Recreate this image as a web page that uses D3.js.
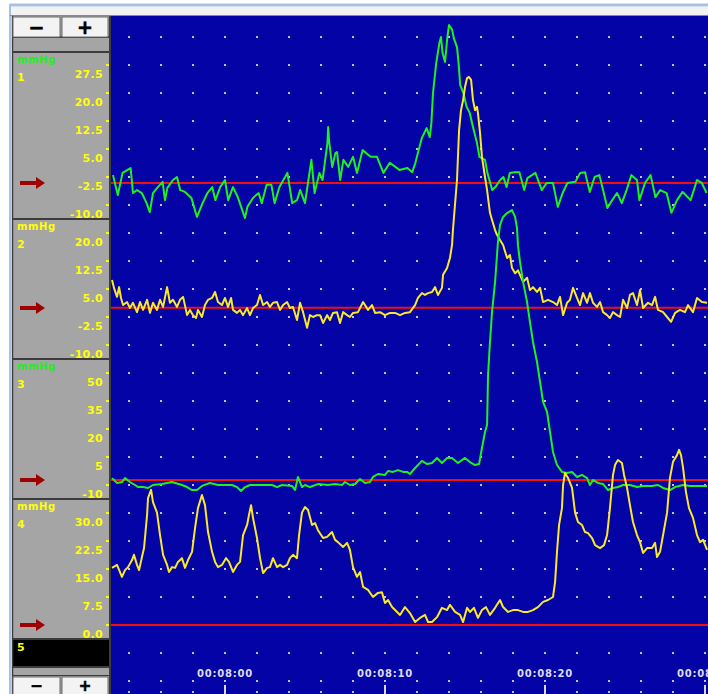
<!DOCTYPE html>
<html>
<head>
<meta charset="utf-8">
<script src="https://cdn.jsdelivr.net/npm/d3@7/dist/d3.min.js"></script>
<style>
  body { margin: 0; background: #fff; }
  svg text { font-family: "DejaVu Sans", sans-serif; font-weight: bold; }
</style>
</head>
<body>
<svg id="chart" width="708" height="694"></svg>
<script>
// ---- data (time in seconds, pressure in mmHg) ----
var viewStart = 472.875;           // left edge of the visible window, s
var timeLabels = [480, 490, 500, 510];

var channelNames = ["1", "2", "3", "4"];
var channelUnits = ["mmHg", "mmHg", "mmHg", "mmHg"];
var ch1Ticks = [27.5, 20.0, 12.5, 5.0, -2.5, -10.0];
var ch2Ticks = [20.0, 12.5, 5.0, -2.5, -10.0];
var ch3Ticks = [50, 35, 20, 5, -10];
var ch4Ticks = [30.0, 22.5, 15.0, 7.5, 0.0];
var markerLevels = [-4.1, 0.0, -7.3, 0.0];

var ch1 = [[473.0,-2.0],[473.3,-7.3],[473.6,-1.4],[474.1,-0.1],[474.25,-6.8],[474.5,-6.0],[474.8,-6.8],[475.1,-9.5],[475.3,-11.9],[475.5,-6.8],[475.8,-5.2],[476.1,-3.8],[476.25,-8.7],[476.4,-5.4],[476.75,-3.3],[477.0,-2.5],[477.2,-6.0],[477.5,-6.5],[477.9,-8.1],[478.25,-13.2],[478.6,-9.5],[478.9,-6.8],[479.2,-5.2],[479.4,-8.7],[479.7,-5.2],[480.0,-3.3],[480.2,-8.7],[480.5,-5.2],[480.8,-7.9],[481.25,-13.5],[481.4,-10.5],[481.75,-8.1],[482.1,-6.8],[482.3,-9.5],[482.6,-4.6],[482.9,-4.6],[483.1,-9.5],[483.4,-5.2],[483.9,-1.4],[484.2,-9.5],[484.5,-8.7],[484.7,-6.0],[485.0,-9.5],[485.4,2.1],[485.6,-6.8],[485.9,-1.4],[486.1,-3.3],[486.4,6.6],[486.45,10.9],[486.5,7.4],[486.7,0.2],[486.9,3.9],[487.0,4.2],[487.2,-3.3],[487.4,2.1],[487.7,0.2],[488.0,2.9],[488.25,-1.4],[488.6,4.7],[489.1,2.9],[489.5,2.9],[489.9,-1.4],[490.3,1.3],[490.9,-0.6],[491.4,-0.1],[491.7,-1.2],[491.9,1.3],[492.1,4.7],[492.3,7.9],[492.6,10.6],[492.8,8.2],[492.9,12.0],[493.0,20.0],[493.2,28.0],[493.4,33.4],[493.5,35.0],[493.6,30.7],[493.75,28.3],[493.9,35.0],[494.0,38.2],[494.2,36.9],[494.3,34.7],[494.5,32.3],[494.6,28.0],[494.7,22.1],[494.9,20.0],[495.1,16.3],[495.3,14.6],[495.5,10.9],[495.75,6.6],[495.9,2.9],[496.25,2.1],[496.4,-1.4],[496.7,-6.0],[496.9,-5.2],[497.2,-3.3],[497.4,-2.5],[497.6,-5.2],[497.8,-1.4],[498.1,-1.2],[498.4,-1.2],[498.7,-6.0],[498.9,-2.8],[499.4,-1.4],[499.8,-6.0],[500.1,-4.1],[500.5,-4.1],[500.8,-10.5],[501.1,-6.8],[501.4,-4.1],[501.9,-3.8],[502.2,-1.4],[502.5,-1.2],[502.8,-6.5],[503.1,-2.5],[503.4,-2.0],[503.9,-10.8],[504.2,-8.7],[504.5,-6.8],[504.8,-9.5],[505.1,-6.0],[505.4,-2.0],[505.75,-3.3],[505.9,-8.7],[506.25,-4.1],[506.6,-2.0],[506.9,-7.9],[507.2,-6.0],[507.6,-6.8],[507.9,-12.1],[508.25,-8.7],[508.6,-6.5],[509.1,-8.7],[509.5,-3.3],[509.8,-4.1],[510.1,-6.8]];

var ch2 = [[472.94,7.4],[473.06,5.3],[473.25,2.9],[473.38,5.5],[473.5,2.6],[473.63,0.7],[473.88,1.5],[474.06,-0.1],[474.25,1.3],[474.5,-1.2],[474.69,1.5],[474.88,-0.6],[475.13,2.1],[475.31,-1.4],[475.5,1.3],[475.75,-0.6],[475.94,2.1],[476.13,0.2],[476.38,5.5],[476.56,1.3],[476.75,2.1],[477.0,0.2],[477.19,2.1],[477.38,2.9],[477.63,-2.0],[477.81,-0.6],[478.0,-2.0],[478.19,-2.8],[478.31,-0.6],[478.56,-2.5],[478.75,0.7],[478.94,2.1],[479.19,2.6],[479.38,4.2],[479.56,1.5],[479.81,0.7],[480.0,2.6],[480.19,0.2],[480.38,2.6],[480.5,-0.6],[480.75,-1.4],[480.94,-0.6],[481.13,-2.0],[481.38,-0.1],[481.56,-2.0],[481.75,-0.1],[482.0,0.7],[482.19,3.4],[482.38,0.7],[482.63,1.5],[482.81,0.2],[483.0,1.3],[483.25,1.5],[483.44,-0.6],[483.63,0.7],[483.88,1.5],[484.06,-0.1],[484.25,0.2],[484.5,-3.3],[484.69,1.3],[484.88,-1.2],[485.13,-5.4],[485.31,-2.0],[485.5,-2.5],[485.75,-2.0],[485.94,-2.0],[486.13,-4.1],[486.38,-2.0],[486.56,-3.3],[486.75,-1.4],[487.0,-1.2],[487.19,-4.1],[487.38,-1.2],[487.63,-2.0],[487.81,-2.5],[488.0,-1.4],[488.31,-1.2],[488.63,1.5],[488.94,-0.6],[489.19,0.7],[489.38,-1.4],[489.69,-1.2],[490.0,-2.0],[490.31,-1.4],[490.63,-1.4],[490.94,-2.0],[491.25,-1.4],[491.56,-1.2],[491.88,0.7],[492.06,2.6],[492.31,3.9],[492.5,3.4],[492.69,3.9],[492.94,4.2],[493.13,5.5],[493.31,3.4],[493.56,5.3],[493.63,8.8],[493.88,10.6],[494.06,13.3],[494.19,16.8],[494.25,21.0],[494.5,34.2],[494.63,47.6],[494.75,52.9],[494.88,55.6],[495.0,59.1],[495.13,61.5],[495.25,61.8],[495.38,61.0],[495.5,55.6],[495.63,52.9],[495.75,53.8],[495.81,52.1],[495.94,46.8],[496.06,40.4],[496.25,35.0],[496.38,31.5],[496.56,25.4],[496.69,23.5],[496.88,20.8],[497.0,19.5],[497.19,18.1],[497.38,16.8],[497.63,13.3],[497.81,14.1],[497.94,10.6],[498.13,9.2],[498.31,10.0],[498.63,6.9],[498.88,8.0],[499.06,4.7],[499.25,5.5],[499.5,4.2],[499.69,5.3],[499.88,1.5],[500.19,2.1],[500.5,1.5],[500.75,0.7],[500.94,2.9],[501.13,-2.0],[501.38,1.3],[501.56,2.1],[501.75,5.3],[502.0,2.6],[502.19,0.7],[502.38,3.9],[502.63,1.3],[502.81,3.9],[503.0,1.3],[503.25,0.2],[503.44,1.5],[503.63,-1.2],[503.88,-2.0],[504.06,-2.8],[504.25,-1.2],[504.5,-2.0],[504.69,-2.5],[504.88,2.1],[505.13,-0.1],[505.31,3.4],[505.5,3.9],[505.75,0.7],[505.94,4.7],[506.13,-0.1],[506.44,1.3],[506.69,0.7],[506.88,2.9],[507.06,-0.6],[507.38,-1.2],[507.63,-2.5],[507.88,-3.8],[508.13,-1.4],[508.44,-0.6],[508.75,-1.2],[508.94,0.7],[509.25,-1.2],[509.5,2.6],[509.81,1.5],[510.13,1.3]];

var ch3 = [[472.94,-6.3],[473.25,-8.9],[473.56,-8.4],[473.75,-6.3],[474.06,-8.4],[474.38,-10.0],[474.56,-11.1],[474.88,-11.1],[475.19,-11.6],[475.5,-10.0],[476.06,-9.5],[476.69,-8.4],[477.31,-10.0],[477.63,-11.1],[477.94,-12.7],[478.25,-12.7],[478.56,-10.5],[479.06,-8.9],[479.56,-10.0],[480.44,-10.0],[480.75,-11.1],[481.0,-13.2],[481.25,-11.1],[481.56,-10.0],[482.31,-10.0],[482.94,-10.0],[483.25,-11.1],[483.56,-10.0],[484.19,-10.5],[484.38,-12.7],[484.56,-5.7],[484.81,-11.1],[485.0,-10.0],[485.31,-11.1],[485.81,-9.5],[486.44,-10.0],[486.88,-9.5],[487.31,-10.0],[487.5,-8.4],[487.81,-10.0],[488.13,-9.5],[488.44,-6.8],[488.75,-8.9],[489.06,-8.4],[489.25,-5.7],[489.56,-4.1],[490.0,-4.6],[490.19,-2.5],[490.5,-3.0],[490.81,-2.0],[491.13,-3.0],[491.38,-3.0],[491.56,-4.1],[491.88,-0.9],[492.31,2.9],[492.63,1.2],[492.94,1.8],[493.25,4.5],[493.56,1.8],[493.88,4.5],[494.19,4.5],[494.56,1.8],[495.0,4.5],[495.31,2.3],[495.63,0.7],[495.88,1.2],[496.06,9.8],[496.25,18.4],[496.38,22.1],[496.44,48.9],[496.56,66.6],[496.69,82.7],[496.88,98.8],[497.0,113.2],[497.06,120.2],[497.19,129.3],[497.38,133.6],[497.63,135.7],[497.94,137.3],[498.13,133.6],[498.25,127.6],[498.31,118.5],[498.44,109.4],[498.63,98.8],[498.88,88.0],[499.06,77.3],[499.25,66.6],[499.5,55.9],[499.69,45.2],[499.88,34.5],[500.13,29.1],[500.25,22.1],[500.5,7.7],[500.75,0.7],[501.06,-3.0],[501.38,-3.6],[501.69,-3.0],[502.0,-5.7],[502.31,-4.6],[502.63,-6.3],[502.81,-10.0],[503.0,-7.3],[503.31,-8.9],[503.63,-9.5],[503.94,-12.7],[504.25,-11.6],[504.56,-11.1],[504.88,-10.0],[505.31,-10.0],[505.75,-11.1],[506.13,-10.5],[506.69,-10.5],[507.06,-10.0],[507.38,-11.6],[507.81,-12.7],[508.13,-11.1],[508.63,-10.0],[509.06,-10.5],[509.5,-10.5],[510.13,-10.5]];

var ch4 = [[472.94,15.3],[473.25,16.1],[473.56,12.9],[473.75,14.7],[473.94,15.5],[474.19,17.4],[474.31,18.8],[474.5,16.1],[474.63,14.7],[474.81,18.2],[474.94,20.6],[475.13,29.5],[475.19,34.0],[475.38,36.2],[475.5,32.9],[475.75,30.1],[475.94,24.1],[476.13,18.8],[476.38,16.1],[476.5,14.2],[476.69,15.5],[476.88,15.3],[477.06,16.9],[477.31,17.9],[477.5,15.3],[477.69,17.4],[477.94,19.6],[478.13,26.0],[478.31,31.3],[478.56,34.8],[478.75,32.1],[478.94,24.9],[479.19,19.6],[479.38,16.9],[479.56,15.5],[479.81,16.1],[480.06,17.9],[480.25,16.9],[480.5,14.2],[480.75,16.1],[480.94,16.9],[481.13,24.1],[481.38,26.8],[481.5,29.5],[481.63,32.1],[481.75,28.7],[482.0,23.3],[482.19,17.9],[482.38,13.9],[482.63,15.3],[482.81,15.5],[483.0,17.9],[483.25,15.5],[483.44,16.1],[483.63,15.5],[483.88,16.1],[484.06,17.9],[484.25,18.8],[484.5,17.9],[484.63,24.1],[484.81,30.1],[485.0,31.6],[485.19,30.8],[485.44,26.8],[485.63,27.3],[485.81,25.4],[486.13,23.3],[486.38,23.6],[486.69,24.9],[486.88,22.8],[487.06,22.2],[487.38,20.9],[487.63,22.0],[487.81,20.1],[488.0,15.5],[488.25,12.9],[488.44,14.2],[488.63,10.2],[488.94,9.4],[489.25,7.5],[489.56,8.6],[489.81,8.8],[490.0,5.9],[490.19,6.7],[490.44,4.8],[490.63,4.0],[490.94,2.7],[491.25,4.8],[491.56,3.2],[491.88,0.8],[492.19,1.9],[492.5,2.7],[492.69,0.8],[492.94,0.8],[493.25,2.1],[493.56,4.6],[493.88,4.0],[494.06,5.4],[494.38,3.5],[494.69,2.7],[494.88,0.8],[495.13,4.6],[495.31,3.5],[495.56,4.6],[495.81,1.9],[496.06,4.0],[496.31,4.8],[496.56,2.7],[496.88,4.6],[497.19,6.7],[497.38,4.8],[497.69,3.5],[498.0,4.0],[498.31,4.0],[498.63,3.5],[498.94,3.5],[499.25,4.0],[499.56,4.8],[499.88,6.2],[500.19,6.7],[500.5,7.5],[500.63,11.5],[500.75,19.6],[500.88,26.8],[501.06,31.3],[501.13,37.5],[501.25,40.7],[501.44,39.4],[501.69,36.7],[501.88,30.1],[502.06,27.6],[502.31,26.8],[502.5,24.9],[502.69,24.6],[502.94,23.3],[503.13,21.4],[503.44,20.6],[503.69,21.4],[503.88,24.1],[504.06,31.3],[504.25,40.2],[504.38,42.9],[504.56,44.2],[504.81,43.4],[504.94,40.2],[505.13,36.7],[505.31,32.1],[505.5,27.6],[505.75,24.1],[505.94,22.2],[506.13,19.3],[506.38,20.6],[506.69,20.6],[506.88,22.0],[507.0,18.2],[507.19,19.6],[507.38,24.1],[507.63,30.1],[507.81,39.4],[508.0,43.7],[508.25,45.5],[508.38,46.9],[508.5,45.5],[508.63,42.1],[508.81,35.6],[509.0,31.3],[509.25,28.7],[509.5,24.1],[509.69,22.2],[509.88,22.8],[510.13,20.1]];

// ---- layout / style ----
var W = 708, H = 694;
var plot = {left: 111, top: 16, right: 708, bottom: 694};
var panel = {left: 12, right: 110};
var rowTop = 37, rowH = 28, rowCount = 24;   // dotted grid rows
var pxPerSec = 16, dotEvery = 2;
var firstRow = [1, 7, 12, 17];
var unitColors = ["#22ee22", "#ffff00", "#22ee22", "#ffff00"];
var traceColors = ["#1ff01f", "#fbe82a", "#1ff01f", "#fbe82a"];
var tickFormats = [".1f", ".1f", "d", ".1f"];
var traces = [ch1, ch2, ch3, ch4];
var ticksList = [ch1Ticks, ch2Ticks, ch3Ticks, ch4Ticks];

// plain hyphen for negative tick labels, as on the recorder screen
var loc = d3.formatLocale({decimal: ".", thousands: ",", grouping: [3], currency: ["", ""], minus: "-"});

function rowY(k){ return rowTop + k * rowH }

var svg = d3.select("#chart");

var x = d3.scaleLinear()
    .domain([viewStart, viewStart + (plot.right - plot.left) / pxPerSec])
    .range([plot.left, plot.right]);

var yScales = ticksList.map(function(t, i){
  return d3.scaleLinear()
    .domain([t[0], t[t.length - 1]])
    .range([rowY(firstRow[i]), rowY(firstRow[i] + t.length - 1)]);
});

// window frame
svg.append("rect").attr("width", W).attr("height", H).attr("fill", "#fff");
svg.append("rect").attr("x", 10).attr("y", 7).attr("width", W - 10).attr("height", 9).attr("fill", "#f2f2f2");
svg.append("line").attr("x1", 10).attr("x2", W).attr("y1", 5).attr("y2", 5)
  .attr("stroke", "#a9c1de").attr("stroke-width", 3);
svg.append("line").attr("x1", 10).attr("x2", 10).attr("y1", 4).attr("y2", H)
  .attr("stroke", "#a9c1de").attr("stroke-width", 2);
svg.append("line").attr("x1", 10).attr("x2", W).attr("y1", 15.5).attr("y2", 15.5)
  .attr("stroke", "#8a8a8a").attr("stroke-width", 1);

// plot area
svg.append("rect")
  .attr("x", plot.left).attr("y", plot.top)
  .attr("width", plot.right - plot.left).attr("height", plot.bottom - plot.top)
  .attr("fill", "#0303a6");

svg.append("clipPath").attr("id", "plotClip")
  .append("rect")
  .attr("x", plot.left).attr("y", plot.top)
  .attr("width", plot.right - plot.left).attr("height", plot.bottom - plot.top);

// dotted grid
var dotTimes = d3.range(Math.ceil(viewStart / dotEvery) * dotEvery, x.domain()[1], dotEvery);
var dotRows = d3.range(rowCount);
var dots = [];
dotRows.forEach(function(r){ dotTimes.forEach(function(t){ dots.push([t, r]) }) });
svg.append("g").selectAll("rect").data(dots).enter().append("rect")
  .attr("x", function(d){ return Math.round(x(d[0])) - 1 })
  .attr("y", function(d){ return rowY(d[1]) - 1 })
  .attr("width", 2).attr("height", 2)
  .attr("fill", "#c4c4dc");

// time axis: minor ticks every 2 s, major ticks + labels every 10 s
svg.append("g").selectAll("rect").data(dotTimes).enter().append("rect")
  .attr("x", function(d){ return Math.round(x(d)) - 1 })
  .attr("y", H - 3).attr("width", 2).attr("height", 2)
  .attr("fill", "#c4c4dc");

function clock(s){
  var h = Math.floor(s / 3600), m = Math.floor(s / 60) % 60, sec = Math.round(s % 60);
  var p = d3.format("02d");
  return p(h) + ":" + p(m) + ":" + p(sec);
}

var tAxis = svg.append("g");
tAxis.selectAll("line").data(timeLabels).enter().append("line")
  .attr("x1", function(d){ return Math.round(x(d)) }).attr("x2", function(d){ return Math.round(x(d)) })
  .attr("y1", H - 9).attr("y2", H)
  .attr("stroke", "#d8d8e8").attr("stroke-width", 2);
tAxis.selectAll("text").data(timeLabels).enter().append("text")
  .attr("x", function(d){ return x(d) }).attr("y", H - 17)
  .attr("text-anchor", "middle")
  .attr("font-size", "10px").attr("letter-spacing", "0.8px")
  .attr("fill", "#dcdcec")
  .text(clock);

// traces + red reference lines
var gTr = svg.append("g").attr("clip-path", "url(#plotClip)");
markerLevels.forEach(function(lv, i){
  gTr.append("line")
    .attr("x1", plot.left).attr("x2", plot.right)
    .attr("y1", yScales[i](lv)).attr("y2", yScales[i](lv))
    .attr("stroke", "#f01010").attr("stroke-width", 2);
});
traces.forEach(function(data, i){
  var line = d3.line()
    .x(function(d){ return x(d[0]) })
    .y(function(d){ return yScales[i](d[1]) });
  gTr.append("path")
    .datum(data)
    .attr("d", line)
    .attr("fill", "none")
    .attr("stroke", traceColors[i])
    .attr("stroke-width", 2)
    .attr("stroke-linejoin", "round");
});

// left channel panel
var gP = svg.append("g");
gP.append("rect").attr("x", panel.left).attr("y", plot.top)
  .attr("width", panel.right - panel.left).attr("height", plot.bottom - plot.top)
  .attr("fill", "#a5a5a5");

var bounds = ticksList.map(function(t, i){
  var top = i == 0 ? rowY(firstRow[0]) - 13 : rowY(firstRow[i - 1] + ticksList[i - 1].length - 1) + 14;
  return top;
});
var lastTickY = rowY(firstRow[3] + ch4Ticks.length - 1);
var ch5Top = lastTickY + 14, ch5Bottom = ch5Top + 28;

// channel 5 (empty) strip
gP.append("rect").attr("x", panel.left + 1).attr("y", ch5Top)
  .attr("width", panel.right - panel.left - 1).attr("height", ch5Bottom - ch5Top)
  .attr("fill", "#000");
gP.append("text").attr("x", 17).attr("y", ch5Top + 12)
  .attr("font-size", "11px").attr("fill", "#ffff00").text("5");

bounds.concat([ch5Top, ch5Bottom, 37]).forEach(function(yb){
  gP.append("line").attr("x1", panel.left).attr("x2", panel.right)
    .attr("y1", yb).attr("y2", yb)
    .attr("stroke", "#3c3c3c").attr("stroke-width", 2);
});
gP.append("line").attr("x1", panel.left + 0.5).attr("x2", panel.left + 0.5)
  .attr("y1", plot.top).attr("y2", H).attr("stroke", "#3c3c3c").attr("stroke-width", 1.5);
gP.append("line").attr("x1", panel.right).attr("x2", panel.right)
  .attr("y1", plot.top).attr("y2", H).attr("stroke", "#3c3c3c").attr("stroke-width", 2);

ticksList.forEach(function(t, i){
  var top = bounds[i];
  var y = yScales[i];
  var f = loc.format(tickFormats[i]);
  gP.append("text").attr("x", 17).attr("y", top + 11)
    .attr("font-size", "10px").attr("letter-spacing", "0.6px")
    .attr("fill", unitColors[i]).text(channelUnits[i]);
  gP.append("text").attr("x", 17).attr("y", top + 29)
    .attr("font-size", "11px").attr("fill", "#ffff00").text(channelNames[i]);

  gP.selectAll(".tk" + i).data(t).enter().append("rect")
    .attr("x", 106).attr("y", function(d){ return y(d) - 1 })
    .attr("width", 3).attr("height", 2).attr("fill", "#ffff00");
  gP.selectAll(".lb" + i).data(t).enter().append("text")
    .attr("x", 103).attr("y", function(d){ return y(d) + 12.5 })
    .attr("text-anchor", "end")
    .attr("font-size", "11px").attr("letter-spacing", "0.3px")
    .attr("fill", "#ffff00")
    .text(function(d){ return f(d) });

  // marker arrow at the channel's reference level
  var ay = Math.round(y(markerLevels[i]));
  gP.append("path")
    .attr("d", "M20," + (ay - 2) + "H36V" + (ay - 6) + "L45," + ay + "L36," + (ay + 6) + "V" + (ay + 2) + "H20Z")
    .attr("fill", "#a00000");
});

// zoom buttons top and bottom
function buttons(y0, h, fs, base){
  [[13, 60, "\u2212"], [62, 108, "+"]].forEach(function(b){
    gP.append("rect").attr("x", b[0]).attr("y", y0).attr("width", b[1] - b[0]).attr("height", h)
      .attr("fill", "#f3f3f3").attr("stroke", "#6a6a6a").attr("stroke-width", 1);
    gP.append("text").attr("x", (b[0] + b[1]) / 2).attr("y", base)
      .attr("text-anchor", "middle").attr("font-size", fs).attr("fill", "#000")
      .attr("stroke", "#000").attr("stroke-width", 0.6)
      .text(b[2]);
  });
}
buttons(17, 20, "19px", 34);
gP.append("rect").attr("x", panel.left).attr("y", ch5Bottom + 8).attr("width", panel.right - panel.left).attr("height", 1)
  .attr("fill", "#3c3c3c");
buttons(ch5Bottom + 10, H - ch5Bottom - 9, "15px", H - 3.5);
</script>
</body>
</html>
